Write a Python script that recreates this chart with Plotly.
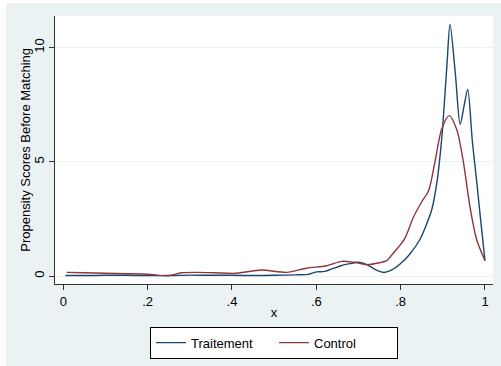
import plotly.graph_objects as go

# Kernel density estimates of the propensity score, before matching
x_treat = [0.005, 0.05, 0.10, 0.15, 0.20, 0.25, 0.30, 0.35, 0.40, 0.45, 0.50, 0.55,
           0.58, 0.60, 0.62, 0.64, 0.66, 0.68, 0.70, 0.72, 0.74, 0.76, 0.78, 0.80,
           0.82, 0.846, 0.86, 0.874, 0.887, 0.895, 0.90, 0.91, 0.917, 0.93, 0.941,
           0.95, 0.959, 0.97, 0.98, 0.99, 1.0]
y_treat = [0.02, 0.02, 0.03, 0.03, 0.02, 0.02, 0.04, 0.03, 0.03, 0.02, 0.03, 0.05,
           0.07, 0.18, 0.20, 0.33, 0.46, 0.54, 0.60, 0.50, 0.28, 0.16, 0.28, 0.55,
           0.92, 1.61, 2.20, 2.92, 4.23, 5.54, 6.60, 9.30, 11.02, 8.80, 6.63,
           7.40, 8.16, 5.90, 4.20, 2.40, 0.67]

x_ctrl = [0.008, 0.05, 0.10, 0.15, 0.20, 0.25, 0.28, 0.32, 0.36, 0.41, 0.47, 0.53,
          0.577, 0.625, 0.66, 0.69, 0.72, 0.75, 0.767, 0.775, 0.791, 0.81, 0.83,
          0.85, 0.866, 0.881, 0.897, 0.915, 0.933, 0.949, 0.964, 0.98, 1.0]
y_ctrl = [0.16, 0.14, 0.12, 0.10, 0.08, 0.01, 0.14, 0.16, 0.14, 0.12, 0.26, 0.16,
          0.34, 0.45, 0.64, 0.60, 0.50, 0.58, 0.67, 0.83, 1.18, 1.65, 2.56,
          3.25, 3.72, 4.96, 6.41, 7.02, 6.41, 4.96, 3.07, 1.61, 0.67]

x_ticks = [0, 0.2, 0.4, 0.6, 0.8, 1.0]
x_ticklabels = ["0", ".2", ".4", ".6", ".8", "1"]
y_ticks = [0, 5, 10]
y_ticklabels = ["0", "5", "10"]

NAVY = "#1a476f"
MAROON = "#90353b"
BG = "#eaf2f3"
AXIS = "#333333"
FONT = "Liberation Sans, Arial, sans-serif"

fig = go.Figure()
fig.add_trace(go.Scatter(x=x_treat, y=y_treat, mode="lines", name="Traitement",
                         line=dict(color=NAVY, width=1.4, shape="spline", smoothing=0.8)))
fig.add_trace(go.Scatter(x=x_ctrl, y=y_ctrl, mode="lines", name="Control",
                         line=dict(color=MAROON, width=1.4, shape="spline", smoothing=0.8)))

# graph region (light tint) and the white plot region on top of it
fig.add_shape(type="rect", xref="paper", yref="paper", layer="below",
              x0=-0.112, x1=1.02, y0=-0.31, y1=1.048,
              fillcolor=BG, line=dict(width=0))
fig.add_shape(type="rect", xref="paper", yref="paper", layer="below",
              x0=0, x1=1, y0=0, y1=1,
              fillcolor="white", line=dict(width=0))

# y-axis title, set a little closer to the tick labels
fig.add_annotation(text="Propensity Scores Before Matching", xref="paper", yref="paper",
                   x=-0.069, y=0.5, xanchor="center", yanchor="middle",
                   textangle=-90, showarrow=False, font=dict(size=13))

fig.update_layout(
    width=501, height=366,
    margin=dict(l=55, r=8, t=16, b=81),
    paper_bgcolor="white", plot_bgcolor="white",
    font=dict(family=FONT, size=13, color="#000000"),
    showlegend=True,
    legend=dict(orientation="h", x=0.5, xanchor="center", y=-0.155, yanchor="top",
                bgcolor="white", bordercolor="#000000", borderwidth=1,
                font=dict(size=13), entrywidth=78, entrywidthmode="pixels",
                traceorder="normal"),
    xaxis=dict(range=[-0.0197, 1.019], tickvals=x_ticks, ticktext=x_ticklabels,
               showgrid=False, zeroline=False, showline=True, linecolor=AXIS,
               linewidth=1, ticks="outside", ticklen=5, tickcolor=AXIS,
               title=dict(text="x", standoff=0, font=dict(size=13))),
    yaxis=dict(range=[-0.35, 11.38], tickvals=y_ticks, ticktext=y_ticklabels,
               showgrid=True, gridcolor=BG, gridwidth=1, zeroline=False,
               showline=True, linecolor=AXIS, linewidth=1, ticks="outside",
               ticklen=5, tickcolor=AXIS, tickangle=-90),
)

fig.write_html("out.html")
